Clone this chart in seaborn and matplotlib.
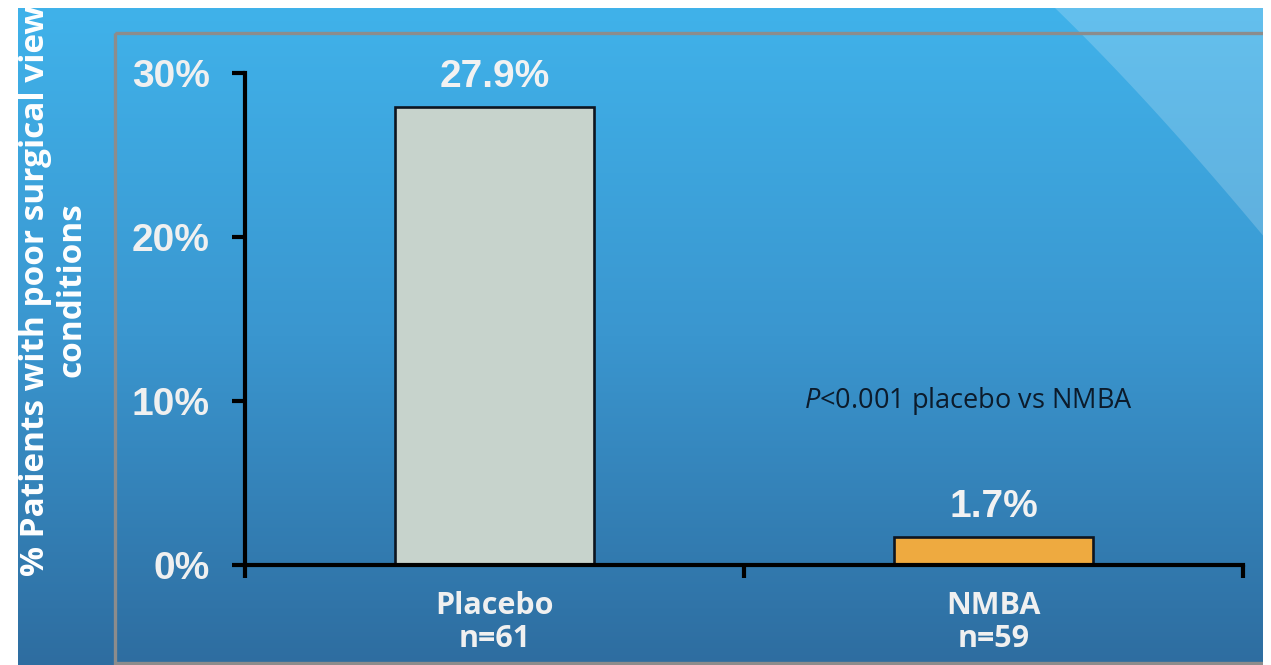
import numpy as np
import pandas as pd
import matplotlib
matplotlib.use("Agg")
import matplotlib.pyplot as plt
import seaborn as sns
from matplotlib.colors import LinearSegmentedColormap
from matplotlib.patches import Rectangle, Polygon

# Data
groups = ["Placebo", "NMBA"]
sample_sizes = [61, 59]
poor_view_pct = [27.9, 1.7]
bar_colors = ["#c7d3cc", "#eeaa40"]
y_ticks = [0, 10, 20, 30]
y_label = "% Patients with poor surgical view\nconditions"
p_note = r"$P$<0.001 placebo vs NMBA"

sns.set_theme(style="white")
plt.rcParams["font.family"] = ["Open Sans", "DejaVu Sans"]
plt.rcParams["mathtext.fontset"] = "custom"
plt.rcParams["mathtext.it"] = "Open Sans:italic"
plt.rcParams["mathtext.rm"] = "Open Sans"

W, H = 1271, 665
fig = plt.figure(figsize=(W / 100, H / 100), dpi=100)
fig.patch.set_facecolor("white")

# Slide background: vertical blue gradient with a lighter sweep at top right
bg = fig.add_axes([0, 0, 1, 1], zorder=-10)
bg.set_xlim(0, W)
bg.set_ylim(H, 0)
bg.axis("off")
cmap = LinearSegmentedColormap.from_list("slide", ["#40b2ea", "#3a96cf", "#2e6da0"])
grad = np.linspace(0, 1, 256).reshape(-1, 1)
bg.imshow(grad, cmap=cmap, extent=[18, 1263, H, 8], aspect="auto", zorder=0)

# smooth edge of the lighter sweep (quadratic Bezier)
p0, p1, p2 = np.array([1055, 8]), np.array([1150, 100]), np.array([1265, 238])
t = np.linspace(0, 1, 40)[:, None]
edge = (1 - t) ** 2 * p0 + 2 * (1 - t) * t * p1 + t ** 2 * p2
sweep = np.vstack([edge, [[1265, 8]]])
bg.add_patch(Polygon(sweep, closed=True, facecolor="white", alpha=0.19,
                     edgecolor="none", zorder=1))
bg.add_patch(Rectangle((115, 33), 1300, 630, facecolor="none",
                       edgecolor="#8c8c8c", linewidth=2.4, zorder=2))
# white page margins
bg.add_patch(Rectangle((1263, 0), 20, H, facecolor="white", edgecolor="none", zorder=5))
bg.add_patch(Rectangle((0, 0), W, 8, facecolor="white", edgecolor="none", zorder=5))
bg.add_patch(Rectangle((0, 0), 18, H, facecolor="white", edgecolor="none", zorder=5))

content = Rectangle((18, 8), 1245, H - 8, transform=bg.transData)
ylab = bg.text(54, 290, y_label, rotation=90, ha="center", va="center",
               multialignment="center", fontsize=24, fontweight="bold",
               color="white", linespacing=1.12, zorder=3)
ylab.set_clip_path(content)

# Bar chart panel
ax = fig.add_axes([245 / W, 1 - 565 / H, (1243 - 245) / W, (565 - 73) / H])
ax.patch.set_alpha(0)
df = pd.DataFrame({"group": groups, "pct": poor_view_pct})
sns.barplot(data=df, x="group", y="pct", hue="group", palette=bar_colors,
            width=0.4, saturation=1, edgecolor="#0d1520", linewidth=1.9,
            legend=False, ax=ax)

ax.set_xlim(-0.5, 1.5)
ax.set_ylim(0, 30)
ax.set_xlabel("")
ax.set_ylabel("")

ax.set_yticks(y_ticks, [f"{v}%" for v in y_ticks])
for lab in ax.get_yticklabels():
    lab.set_fontfamily("Liberation Sans")
    lab.set_fontweight("bold")
    lab.set_fontsize(28)
    lab.set_color("#f0f0f0")
ax.tick_params(axis="y", direction="out", length=9.5, width=3, color="black",
               pad=16, left=True)

ax.set_xticks([0, 1], [f"{g}\nn={n}" for g, n in zip(groups, sample_sizes)])
for lab in ax.get_xticklabels():
    lab.set_fontweight("bold")
    lab.set_fontsize(22)
    lab.set_color("#f0f0f0")
    lab.set_linespacing(1.1)
ax.tick_params(axis="x", which="major", length=0, pad=19)
ax.set_xticks([-0.5, 0.5, 1.5], minor=True)
ax.tick_params(axis="x", which="minor", direction="out", length=9.5, width=3,
               color="black", bottom=True)

for side in ["top", "right"]:
    ax.spines[side].set_visible(False)
for side in ["left", "bottom"]:
    ax.spines[side].set_linewidth(3)
    ax.spines[side].set_color("black")

for i, v in enumerate(poor_view_pct):
    ax.annotate(f"{v}%", (i, v), xytext=(0, 9), textcoords="offset points",
                ha="center", va="bottom", fontfamily="Liberation Sans",
                fontweight="bold", fontsize=28, color="#f2f2f2")

ax.text(0.949, 9.6, p_note, ha="center", va="baseline", fontsize=19.5,
        color="#0c1b2b")

fig.savefig("out.png", dpi=100, facecolor=fig.get_facecolor())
